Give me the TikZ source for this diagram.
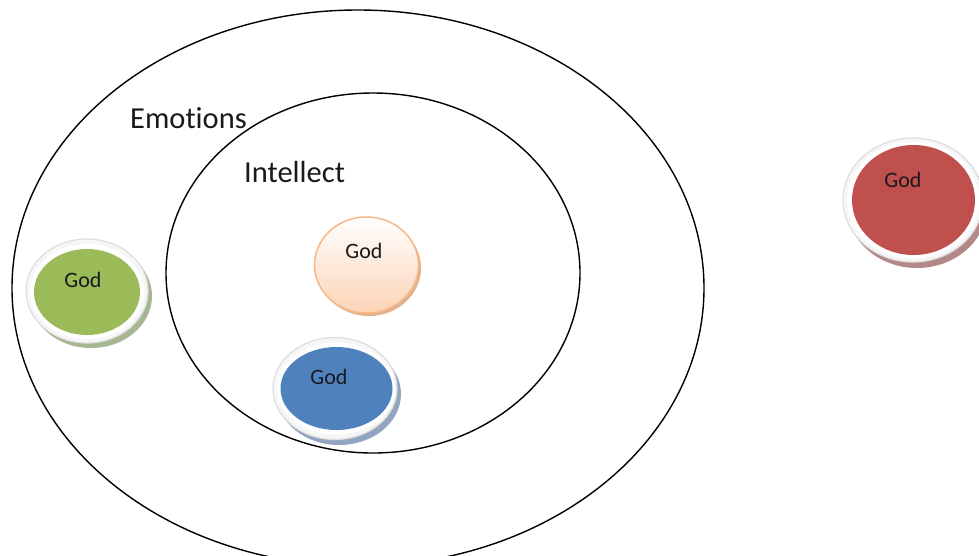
\documentclass[tikz,border=0pt]{standalone}
\usepackage{fontspec}
\setmainfont{Carlito}[Ligatures=NoCommon]
\definecolor{godgreen}{RGB}{155,187,89}
\definecolor{godgreensh}{RGB}{166,182,146}
\definecolor{godblue}{RGB}{79,129,189}
\definecolor{godbluesh}{RGB}{146,165,192}
\definecolor{godred}{RGB}{192,80,77}
\definecolor{godredsh}{RGB}{180,136,136}
\definecolor{peachedge}{RGB}{246,184,136}
\definecolor{peachbot}{RGB}{251,212,182}
\definecolor{peachsh}{RGB}{226,178,140}
\definecolor{ringedge}{RGB}{222,222,222}
\definecolor{ringfill}{RGB}{246,246,246}
\definecolor{txt}{RGB}{25,25,30}
\begin{document}
\begin{tikzpicture}[x=1pt,y=-1pt,
  bigring/.style={draw=black,line width=1.4pt},
  lbl/.style={inner sep=0pt,anchor=base west,text=txt,font=\fontsize{30.5}{36}\selectfont},
  godlbl/.style={inner sep=0pt,anchor=base,text=txt,font=\fontsize{22}{26}\selectfont},
  ringw/.style={fill=ringfill,draw=ringedge,line width=1.2pt}]
\useasboundingbox (0,0) rectangle (979,555);
\clip (0,0) rectangle (979,555);
\fill[white] (0,0) rectangle (979,555);
% big ellipses
\draw[bigring] (358,288) ellipse [x radius=346,y radius=278];
\draw[bigring] (373,273) ellipse [x radius=207,y radius=180];
\node[lbl] (emo) at (130,128) {Emotions};
\node[lbl] (int) at (244,182) {Intellect};
% green
\fill[godgreensh] (91,296) ellipse [x radius=61,y radius=52];
\draw[ringw] (87,291) ellipse [x radius=61,y radius=52];
\fill[white] (87,291.5) ellipse [x radius=57,y radius=47.5];
\fill[godgreen] (87,292) ellipse [x radius=53,y radius=43];
\node[godlbl] (g1) at (83,287) {God};
% blue
\fill[godbluesh] (339,394) ellipse [x radius=62,y radius=51];
\draw[ringw] (335,388.5) ellipse [x radius=62,y radius=51];
\fill[white] (336,388.5) ellipse [x radius=59,y radius=46];
\fill[godblue] (336.5,388.5) ellipse [x radius=56,y radius=41.5];
\node[godlbl] (g2) at (329,384) {God};
% red
\fill[godredsh] (917,206) ellipse [x radius=70,y radius=62];
\draw[ringw] (913,200) ellipse [x radius=70,y radius=62];
\fill[white] (913.2,200) ellipse [x radius=66,y radius=58.5];
\fill[godred] (913.5,200) ellipse [x radius=61.5,y radius=55];
\node[godlbl] (g3) at (903,187) {God};
% peach
\fill[peachsh] (369,268) ellipse [x radius=52,y radius=48];
\shade[top color=white,bottom color=peachbot] (366.5,265) ellipse [x radius=52,y radius=48];
\draw[peachedge,line width=1.5pt] (366.5,265) ellipse [x radius=52,y radius=48];
\node[godlbl] (g4) at (364,258) {God};
\end{tikzpicture}
\end{document}
